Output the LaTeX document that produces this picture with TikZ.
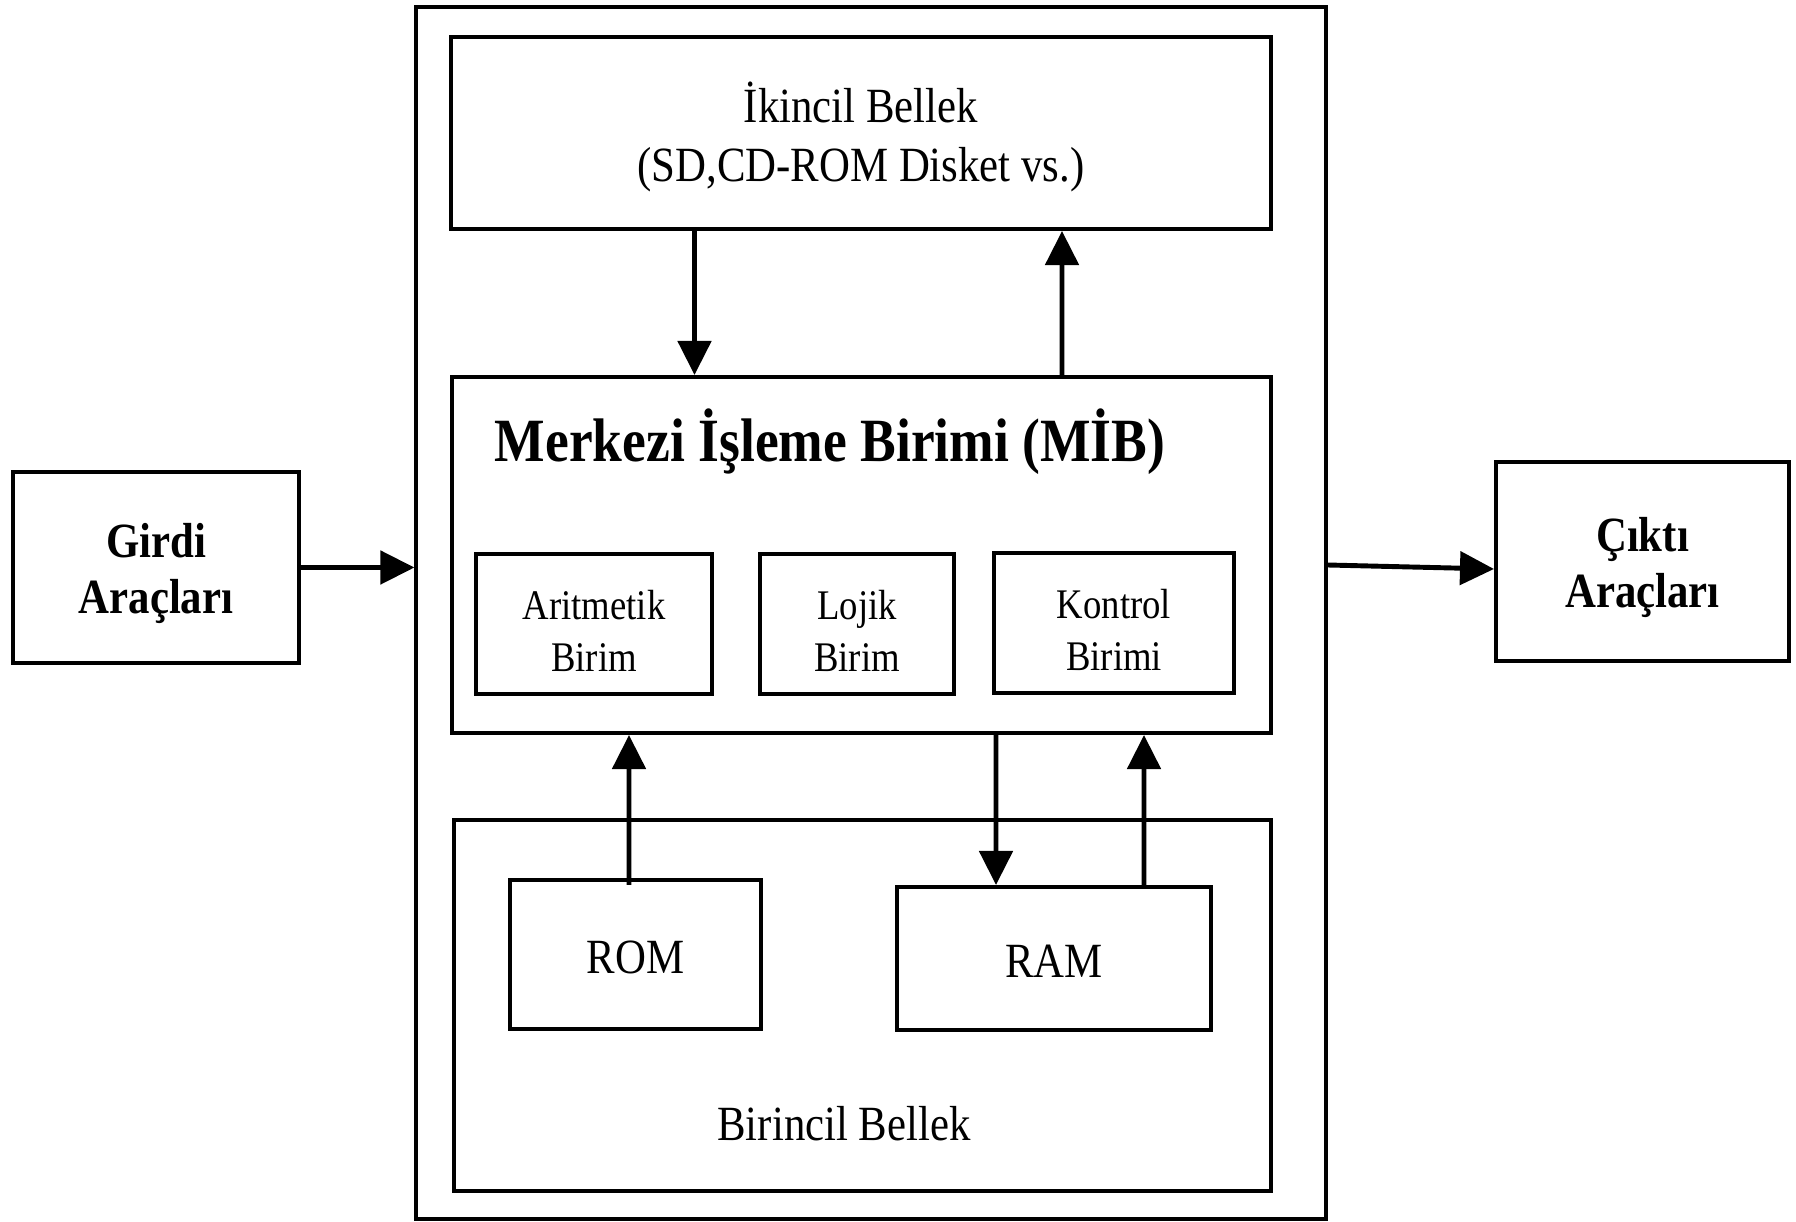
\documentclass[tikz,border=0pt]{standalone}
\usepackage{fontspec}
\setmainfont[FakeStretch=0.87]{Liberation Serif}
\usetikzlibrary{arrows.meta}
\begin{document}
\begin{tikzpicture}[
        box/.style={draw, line width=1.15pt, inner sep=0pt},
        unit/.style={box, minimum height=1.40cm},
        unittext/.style={align=center, font=\fontsize{12pt}{14.6pt}\selectfont, yshift=-0.07cm},
        memtext/.style={align=center, font=\fontsize{14pt}{16.8pt}\selectfont},
        devtext/.style={align=center, font=\bfseries\fontsize{14pt}{16.2pt}\selectfont, yshift=-0.06cm},
        link/.style={line width=1.4pt, -{Triangle[length=3.4mm, width=3.3mm]}}
    ]
        \useasboundingbox (0,0) rectangle (17.96,12.21);

        % Computer frame
        \node[draw, line width=0.9pt, minimum width=9.10cm, minimum height=12.12cm] (outer) at (8.71,6.08) {};

        % Secondary memory
        \node[box, minimum width=8.20cm, minimum height=1.92cm,
            label={[memtext, yshift=-0.035cm]center:İkincil Bellek\\(SD,CD-ROM Disket vs.)}] (ikincil) at (8.61,10.88) {};

        % CPU and its units
        \node[box, minimum width=8.19cm, minimum height=3.56cm] (mib) at (8.615,6.66) {};
        \node[font=\bfseries\fontsize{17.5pt}{21pt}\selectfont] (mibtitle) at (8.30,7.79) {Merkezi İşleme Birimi (MİB)};
        \node[unit, minimum width=2.36cm, label={[unittext]center:Aritmetik\\Birim}] (aritmetik) at (5.94,5.97) {};
        \node[unit, minimum width=1.94cm, label={[unittext]center:Lojik\\Birim}] (lojik) at (8.57,5.97) {};
        \node[unit, minimum width=2.40cm, label={[unittext]center:Kontrol\\Birimi}] (kontrol) at (11.14,5.98) {};

        % Primary memory
        \node[box, minimum width=8.17cm, minimum height=3.71cm] (birincil) at (8.625,2.155) {};
        \node[box, minimum width=2.51cm, minimum height=1.49cm,
            label={[memtext, yshift=-0.025cm]center:ROM}] (rom) at (6.355,2.665) {};
        \node[box, minimum width=3.14cm, minimum height=1.43cm,
            label={[memtext, yshift=-0.025cm]center:RAM}] (ram) at (10.54,2.625) {};
        \node[memtext] (birinciltext) at (8.44,0.97) {Birincil Bellek};

        % Input / output devices
        \node[box, minimum width=2.86cm, minimum height=1.91cm,
            label={[devtext]center:Girdi\\Araçları}] (girdi) at (1.56,6.535) {};
        \node[box, minimum width=2.93cm, minimum height=1.99cm,
            label={[devtext]center:Çıktı\\Araçları}] (cikti) at (16.425,6.595) {};

        % Data paths
        \draw[link] (girdi.east) -- (outer.west |- girdi.east);
        \draw[link] ([yshift=0.48cm]outer.east) -- ([yshift=-0.075cm]cikti.west);
        \draw[link] ([xshift=-1.665cm]ikincil.south) -- ([xshift=-1.67cm]mib.north);
        \draw[link] ([xshift=2.005cm]mib.north) -- ([xshift=2.01cm]ikincil.south);
        \draw[link] ([xshift=-0.065cm,yshift=-0.07cm]rom.north) -- ([xshift=-2.325cm]mib.south);
        \draw[link] ([xshift=1.345cm]mib.south) -- ([xshift=-0.58cm]ram.north);
        \draw[link] ([xshift=0.90cm]ram.north) -- ([xshift=2.825cm]mib.south);

    \end{tikzpicture}
\end{document}
